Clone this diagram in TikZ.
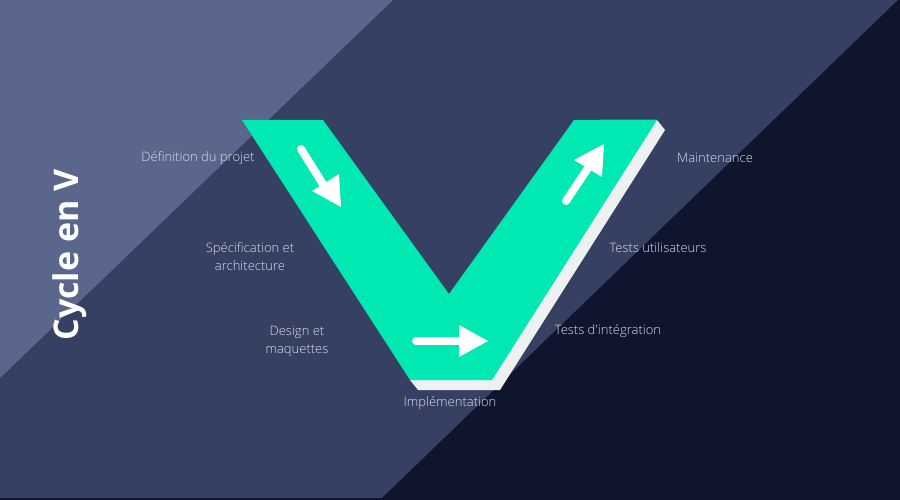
\documentclass[tikz,border=0pt]{standalone}
\usepackage{fontspec}
\IfFontExistsTF{Open Sans Light}{\newfontfamily\lblfont{Open Sans Light}}{\newfontfamily\lblfont{Open Sans}}
\newfontfamily\titlefont{Open Sans}
\definecolor{bandlight}{HTML}{5B668C}
\definecolor{bandmid}{HTML}{364063}
\definecolor{banddark}{HTML}{0E152D}
\definecolor{vgreen}{HTML}{00E9B2}
\definecolor{vshadow}{HTML}{EEF1F1}
\definecolor{lbl}{HTML}{D9DCE6}
\tikzset{
  lab/.style={text=lbl, font=\lblfont\fontsize{13}{18}\selectfont, align=center, inner sep=0pt},
  shaft/.style={white, line width=8pt, line cap=round},
  head/.style={fill=white},
}
\begin{document}
\begin{tikzpicture}[x=1pt,y=-1pt]
\useasboundingbox (0,0) rectangle (900,500);
% background bands
\fill[bandmid] (0,0) rectangle (900,500);
\fill[bandlight] (0,0) -- (393,0) -- (0,378) -- cycle;
\fill[banddark] (898,0) -- (900,0) -- (900,500) -- (380,500) -- cycle;
\fill[banddark] (0,498) rectangle (900,500);
% V shadow (visible only on the right outer edge and the bottom)
\fill[vshadow] (410,380) -- (470,300) -- (600,120) -- (657,120) -- (665,130) -- (500,390) -- (418,390) -- cycle;
% V
\fill[vgreen] (242,120) -- (323,120) -- (449,294) -- (574,120) -- (657,120) -- (492,380) -- (410,380) -- cycle;
% arrows
\draw[shaft] (301,149) -- (326,189);
\fill[head] (341,207) -- (312,191) -- (339,174) -- cycle;
\draw[shaft] (416,341) -- (465,341);
\fill[head] (488,341) -- (459,325) -- (459,357) -- cycle;
\draw[shaft] (566,201) -- (590,165);
\fill[head] (604,144) -- (574,160) -- (602,177) -- cycle;
% title
\node[text=white, font=\titlefont\bfseries\fontsize{34}{34}\selectfont, rotate=90, inner sep=0pt] (title) at (70,255) {Cycle en V};
% labels
\node[lab] (def) at (198,158) {Définition du projet};
\node[lab] (spec) at (250,257) {Spécification et\\architecture};
\node[lab] (design) at (297,341) {Design et\\maquettes};
\node[lab] (impl) at (450,403) {Implémentation};
\node[lab] (integ) at (608,331) {Tests d'intégration};
\node[lab] (users) at (658,248) {Tests utilisateurs};
\node[lab] (maint) at (715,158) {Maintenance};
\end{tikzpicture}
\end{document}
